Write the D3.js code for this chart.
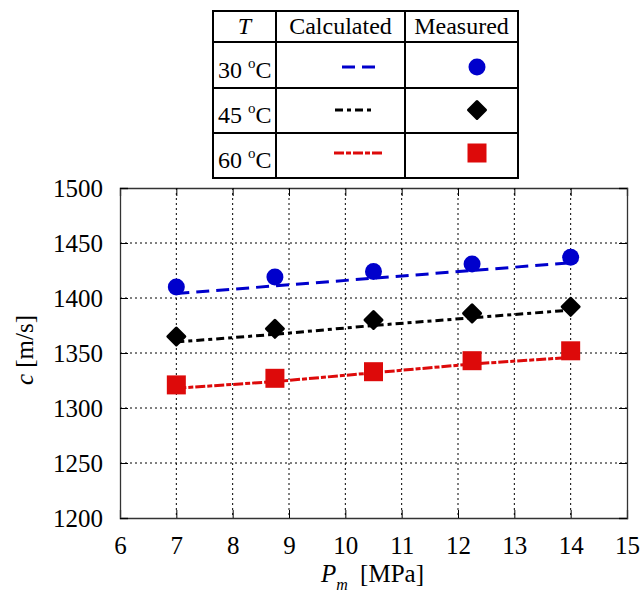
<!DOCTYPE html>
<html><head><meta charset="utf-8">
<script src="https://cdn.jsdelivr.net/npm/d3@7"></script>
<style>body{margin:0;background:#fff}svg{display:block}text{font-family:"Liberation Serif","Times New Roman",Times,serif !important;fill:#000}</style>
</head><body><svg id="c" width="642" height="593"></svg>
<script>
const pressures = [7, 8.75, 10.5, 12.25, 14];
const temperatures = ["30", "45", "60"];
const measured30 = [1410, 1419, 1424, 1431, 1437];
const measured45 = [1365, 1372, 1380, 1386, 1392];
const measured60 = [1321, 1327, 1333, 1343, 1352];
const calculated30 = [1404, 1411, 1418, 1425, 1432];
const calculated45 = [1360, 1367, 1375, 1382, 1389];
const calculated60 = [1318, 1324, 1332, 1340, 1346];
const xTicks = [6, 7, 8, 9, 10, 11, 12, 13, 14, 15];
const yTicks = [1200, 1250, 1300, 1350, 1400, 1450, 1500];

const series = [
  {t: temperatures[0], meas: measured30, calc: calculated30, color: "#0000cc", dash: "13,7", shape: "circle"},
  {t: temperatures[1], meas: measured45, calc: calculated45, color: "#000000", dash: "8,4,4,4", shape: "diamond"},
  {t: temperatures[2], meas: measured60, calc: calculated60, color: "#dd0a0a", dash: "10,2,5,2", shape: "square"}
];

const svg = d3.select("#c");
const L = 120, R = 627, T = 188, B = 518;
const x = d3.scaleLinear().domain([6, 15]).range([L, R]);
const y = d3.scaleLinear().domain([1200, 1500]).range([B, T]);

// grid
const g = svg.append("g");
g.selectAll(".gx").data(xTicks.slice(1, -1)).join("line")
  .attr("x1", d => x(d)).attr("x2", d => x(d)).attr("y1", T).attr("y2", B)
  .attr("stroke", "#000").attr("stroke-width", 1).attr("stroke-dasharray", "2,3");
g.selectAll(".gy").data(yTicks.slice(1, -1)).join("line")
  .attr("y1", d => y(d)).attr("y2", d => y(d)).attr("x1", L).attr("x2", R)
  .attr("stroke", "#000").attr("stroke-width", 1).attr("stroke-dasharray", "2,3");

// axes with inward ticks
const axB = svg.append("g").attr("transform", `translate(0,${B})`)
  .call(d3.axisBottom(x).tickValues(xTicks).tickSize(-8).tickPadding(18).tickFormat(d3.format("d")));
const axT = svg.append("g").attr("transform", `translate(0,${T})`)
  .call(d3.axisTop(x).tickValues(xTicks).tickSize(-8).tickFormat(""));
const axL = svg.append("g").attr("transform", `translate(${L},0)`)
  .call(d3.axisLeft(y).tickValues(yTicks).tickSize(-8).tickPadding(17).tickFormat(d3.format("d")));
const axR = svg.append("g").attr("transform", `translate(${R},0)`)
  .call(d3.axisRight(y).tickValues(yTicks).tickSize(-8).tickFormat(""));
[axB, axT, axL, axR].forEach(a => {
  a.attr("font-family", null).attr("font-size", null);
  a.select(".domain").attr("stroke", "#333").attr("stroke-width", 1.3);
  a.selectAll(".tick line").attr("stroke", "#000").attr("stroke-width", 1);
  a.selectAll("text").style("font-size", "25px").attr("fill", "#000");
});

// lines
const line = d3.line().x((d, i) => x(pressures[i])).y(d => y(d));
svg.selectAll(".calc").data(series).join("path")
  .attr("d", d => line(d.calc)).attr("fill", "none")
  .attr("stroke", d => d.color).attr("stroke-width", 3).attr("stroke-dasharray", d => d.dash);

// markers
function marker(sel, shape, color) {
  if (shape === "circle") sel.append("circle").attr("r", 8.5).attr("fill", color);
  else if (shape === "diamond") sel.append("rect").attr("x", -7.5).attr("y", -7.5).attr("width", 15).attr("height", 15)
    .attr("rx", 1.5).attr("transform", "rotate(45)").attr("fill", color);
  else sel.append("rect").attr("x", -9.5).attr("y", -9.5).attr("width", 19).attr("height", 19).attr("fill", color);
}
series.forEach(s => {
  s.meas.forEach((v, i) => {
    const m = svg.append("g").attr("transform", `translate(${x(pressures[i])},${y(v)})`);
    marker(m, s.shape, s.color);
  });
});

// axis titles
const yt = svg.append("text").attr("transform", `translate(33,350) rotate(-90)`)
  .attr("text-anchor", "middle").style("font-size", "25px");
yt.append("tspan").attr("font-style", "italic").text("c");
yt.append("tspan").text(" [m/s]");
const xt = svg.append("text").attr("x", 321).attr("y", 582).style("font-size", "25px");
xt.append("tspan").attr("font-style", "italic").text("P");
xt.append("tspan").attr("font-style", "italic").attr("dx", 0).attr("dy", 8).style("font-size", "16px").text("m");
xt.append("tspan").attr("dx", 6).attr("dy", -8).text(" [MPa]");

// legend table
const lx0 = 213, lx1 = 276, lx2 = 405, lx3 = 518;
const ly = [11, 42, 88, 133, 178];
const lg = svg.append("g");
lg.append("rect").attr("x", lx0).attr("y", ly[0]).attr("width", lx3 - lx0).attr("height", ly[4] - ly[0])
  .attr("fill", "#fff").attr("stroke", "#000").attr("stroke-width", 2);
[lx1, lx2].forEach(v => lg.append("line").attr("x1", v).attr("x2", v).attr("y1", ly[0]).attr("y2", ly[4]).attr("stroke", "#000").attr("stroke-width", 2));
ly.slice(1, 4).forEach(v => lg.append("line").attr("x1", lx0).attr("x2", lx3).attr("y1", v).attr("y2", v).attr("stroke", "#000").attr("stroke-width", 2));
lg.append("text").attr("x", (lx0 + lx1) / 2).attr("y", 34).attr("text-anchor", "middle").attr("font-style", "italic").style("font-size", "24px").text("T");
lg.append("text").attr("x", (lx1 + lx2) / 2).attr("y", 34).attr("text-anchor", "middle").style("font-size", "24px").text("Calculated");
lg.append("text").attr("x", (lx2 + lx3) / 2).attr("y", 34).attr("text-anchor", "middle").style("font-size", "24px").text("Measured");
const rowBase = [78, 123, 168];
const rowMid = [67, 110, 153];
const legLine = [[342, 378], [335, 375], [334, 382]];
series.forEach((s, i) => {
  const t = lg.append("text").attr("x", 218).attr("y", rowBase[i]).style("font-size", "24px");
  t.append("tspan").text(s.t + " ");
  t.append("tspan").attr("dy", -10).style("font-size", "15px").text("o");
  t.append("tspan").attr("dy", 10).text("C");
  lg.append("line").attr("x1", legLine[i][0]).attr("x2", legLine[i][1]).attr("y1", rowMid[i]).attr("y2", rowMid[i])
    .attr("stroke", s.color).attr("stroke-width", 3).attr("stroke-dasharray", s.dash);
  const m = lg.append("g").attr("transform", `translate(477,${rowMid[i]})`);
  marker(m, s.shape, s.color);
});
</script></body></html>
